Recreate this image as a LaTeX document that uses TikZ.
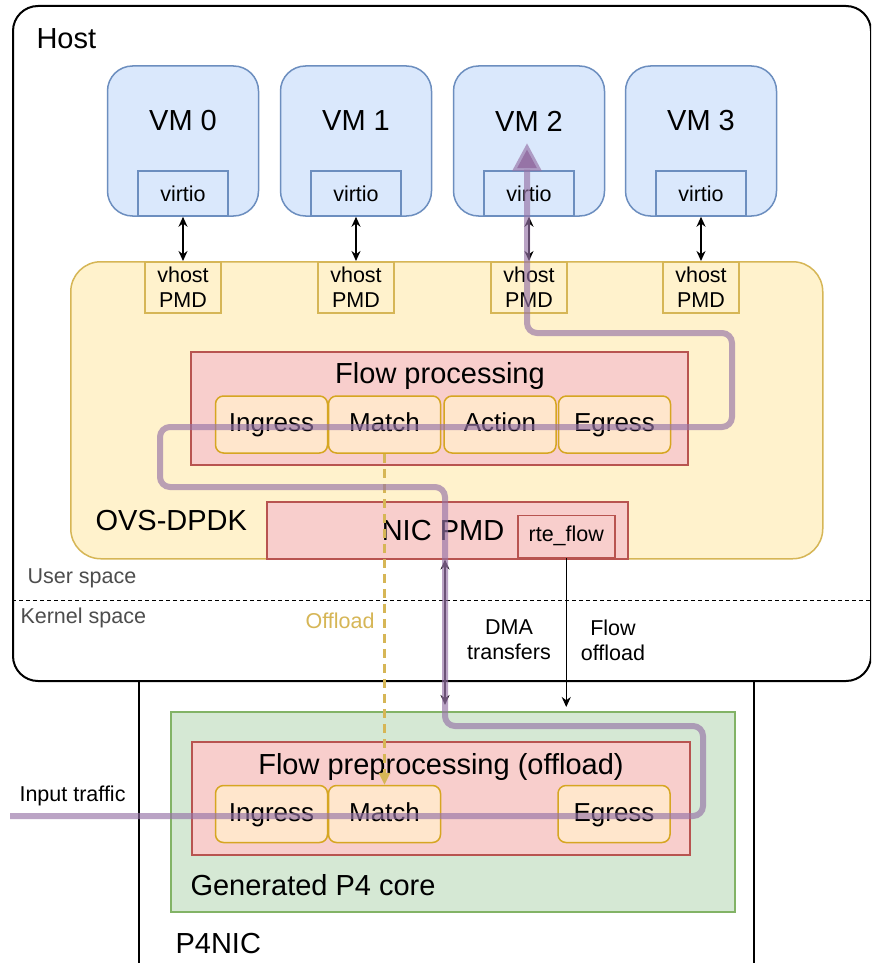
\documentclass[tikz,border=0pt]{standalone}
\usepackage{fontspec}
\setmainfont{Liberation Sans}
\usetikzlibrary{arrows.meta}

\definecolor{vmfill}{HTML}{DAE8FC}
\definecolor{vmline}{HTML}{6C8EBF}
\definecolor{ovsfill}{HTML}{FFF2CC}
\definecolor{ovsline}{HTML}{D6B656}
\definecolor{flowfill}{HTML}{F8CECC}
\definecolor{flowline}{HTML}{B85450}
\definecolor{stagefill}{HTML}{FFE6CC}
\definecolor{stageline}{HTML}{D6A622}
\definecolor{corefill}{HTML}{D5E8D4}
\definecolor{coreline}{HTML}{82B366}
\definecolor{pathcol}{HTML}{9673A6}
\definecolor{spacecol}{HTML}{4D4D4D}

\tikzset{
    bigfont/.style={font=\fontsize{29}{34}\selectfont},
    midfont/.style={font=\fontsize{26}{30}\selectfont},
    smallfont/.style={font=\fontsize{21.5}{25}\selectfont},
    vmbox/.style={draw=vmline,fill=vmfill,line width=1.5pt,rounded corners=25pt,inner sep=0pt},
    virtiobox/.style={draw=vmline,fill=vmfill,line width=1.5pt,inner sep=0pt,smallfont,minimum width=90pt,minimum height=45pt},
    vhostbox/.style={draw=ovsline,fill=ovsfill,line width=1.5pt,inner sep=0pt,smallfont,align=center,minimum width=76pt,minimum height=51pt},
    flowbox/.style={draw=flowline,fill=flowfill,line width=1.5pt,inner sep=0pt},
    stagebox/.style={draw=stageline,fill=stagefill,line width=1.5pt,rounded corners=8pt,inner sep=0pt,midfont,text height=19pt,text depth=5pt,minimum width=112pt,minimum height=57pt},
    vmlink/.style={{Stealth[length=10pt,width=9pt]}-{Stealth[length=10pt,width=9pt]},line width=1.5pt},
    pathline/.style={draw=pathcol,line width=6pt,draw opacity=0.65,rounded corners=10pt,-{Triangle[length=28pt,width=28pt]}}
}

\begin{document}
\begin{tikzpicture}[x=1pt,y=-1pt]
        \useasboundingbox (0,0) rectangle (871,963);
        \clip (0,0) rectangle (871,963);

        % P4NIC
        \node[draw=black,fill=white,line width=2pt,anchor=north west,minimum width=615pt,minimum height=330pt,inner sep=0pt] (p4nic) at (138,680) {};
        \node[bigfont,anchor=west] (p4niclabel) at (172,944) {P4NIC};

        % Host
        \node[draw=black,fill=white,line width=2pt,rounded corners=25pt,anchor=north west,minimum width=858pt,minimum height=675pt,inner sep=0pt] (host) at (12,5) {};
        \node[bigfont,anchor=west] (hostlabel) at (33,39) {Host};

        % OVS-DPDK
        \node[draw=ovsline,fill=ovsfill,line width=1.5pt,rounded corners=30pt,anchor=north west,minimum width=752pt,minimum height=297pt,inner sep=0pt] (ovs) at (70,261) {};
        \node[bigfont,anchor=west] (ovslabel) at (92,521) {OVS-DPDK};

        % VMs
        \node[vmbox,minimum width=151pt,minimum height=150pt] (vm0) at (183,141) {};
        \node[vmbox,minimum width=151pt,minimum height=150pt] (vm1) at (356,141) {};
        \node[vmbox,minimum width=151pt,minimum height=150pt] (vm2) at (529,141) {};
        \node[vmbox,minimum width=151pt,minimum height=150pt] (vm3) at (701,141) {};
        \node[bigfont] (vm0label) at (183,121) {VM 0};
        \node[bigfont] (vm1label) at (356,121) {VM 1};
        \node[bigfont] (vm2label) at (529,121) {VM 2};
        \node[bigfont] (vm3label) at (701,121) {VM 3};

        \node[virtiobox,anchor=south] (virtio0) at (vm0.south) {virtio};
        \node[virtiobox,anchor=south] (virtio1) at (vm1.south) {virtio};
        \node[virtiobox,anchor=south] (virtio2) at (vm2.south) {virtio};
        \node[virtiobox,anchor=south] (virtio3) at (vm3.south) {virtio};

        % vhost PMDs
        \node[vhostbox,anchor=north] (vhost0) at (183,261) {vhost\\PMD};
        \node[vhostbox,anchor=north] (vhost1) at (356,261) {vhost\\PMD};
        \node[vhostbox,anchor=north] (vhost2) at (529,261) {vhost\\PMD};
        \node[vhostbox,anchor=north] (vhost3) at (701,261) {vhost\\PMD};

        \draw[vmlink] (virtio0) -- (vhost0);
        \draw[vmlink] (virtio1) -- (vhost1);
        \draw[vmlink] (virtio2) -- (vhost2);
        \draw[vmlink] (virtio3) -- (vhost3);

        % Flow processing
        \node[flowbox,anchor=north west,minimum width=497pt,minimum height=113pt] (flowproc) at (190,351) {};
        \node[bigfont] (flowproclabel) at (440,376) {Flow processing};
        \node[stagebox] (ingress) at (271.5,424.5) {Ingress};
        \node[stagebox] (match) at (384.5,424.5) {Match};
        \node[stagebox] (action) at (500,424.5) {Action};
        \node[stagebox] (egress) at (614.5,424.5) {Egress};

        % NIC PMD
        \node[flowbox,anchor=north west,minimum width=361pt,minimum height=57pt] (nicpmd) at (266,501) {};
        \node[bigfont] (nicpmdlabel) at (443,531) {NIC PMD};
        \node[flowbox,smallfont,anchor=south west,minimum width=97pt,minimum height=42pt] (rteflow) at (517,558) {rte\_flow};

        % User / kernel space
        \node[smallfont,text=spacecol,anchor=west] (userlabel) at (24,578) {User space};
        \node[smallfont,text=spacecol,anchor=west] (kernellabel) at (17,618) {Kernel space};
        \draw[line width=1pt,dash pattern=on 4pt off 3pt] (host.west |- 0,600) -- (host.east |- 0,600);

        % Generated P4 core
        \node[draw=coreline,fill=corefill,line width=1.5pt,anchor=north west,minimum width=564pt,minimum height=200pt,inner sep=0pt] (p4core) at (170,711) {};
        \node[bigfont,anchor=west] (p4corelabel) at (187,885) {Generated P4 core};
        \node[flowbox,anchor=north west,minimum width=498pt,minimum height=113pt] (preproc) at (191,741) {};
        \node[bigfont] (preproclabel) at (441,767) {Flow preprocessing (offload)};
        \node[stagebox] (pingress) at (271.5,814) {Ingress};
        \node[stagebox] (pmatch) at (384.5,814) {Match};
        \node[stagebox] (pegress) at (614,814) {Egress};

        % Offload
        \draw[ovsline,line width=2.5pt,dash pattern=on 9pt off 6pt,-{Triangle[length=12pt,width=11pt]}] (match.south) -- (pmatch.north);
        \node[smallfont,text=ovsline,anchor=east] (offloadlabel) at (378,621) {Offload};

        % DMA transfers
        \coordinate (dmaend) at (445,705);
        \draw[vmlink,draw=black!80!pathcol] (nicpmd.south -| dmaend) -- (dmaend);
        \node[smallfont,align=center] (dmalabel) at (509,640) {DMA\\transfers};

        % Flow offload
        \draw[line width=1.5pt,-{Stealth[length=10pt,width=9pt]}] (rteflow.south) -- ([yshift=4pt]rteflow.south |- p4core.north);
        \node[smallfont,align=center] (flowofflabel) at (613,640) {Flow\\offload};

        % Traffic path
        \node[smallfont,anchor=west] (inlabel) at (16,796) {Input traffic};
        \coordinate (trafficin) at (10,816);
        \coordinate (vmtwoin) at (527,143);
        \draw[pathline] (trafficin) -- (703,816) -- (703,726) -- (445,726) -- (445,487)
            -- (160,487) -- (160,427) -- (732,427) -- (732,333) -- (527,333) -- (vmtwoin);
\end{tikzpicture}
\end{document}
